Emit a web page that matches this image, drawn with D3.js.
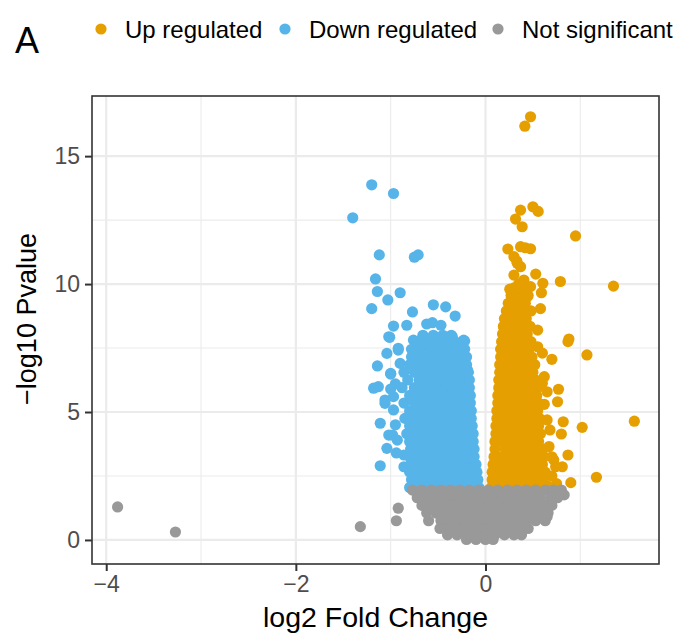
<!DOCTYPE html>
<html><head><meta charset="utf-8">
<script src="https://cdn.jsdelivr.net/npm/d3@7/dist/d3.min.js"></script>
<style>body{margin:0;background:#fff}svg{display:block;font-family:"Liberation Sans",Arial,Helvetica,sans-serif}</style>
</head><body><div id="chart"></div>
<script>
const seriesNames = ["Up regulated","Down regulated","Not significant"];
const seriesColors = ["#E69F00","#56B4E9","#999999"];
const xTicks = [-4,-2,0];
const yTicks = [0,5,10,15];
const xMinor = [-3,-1,1];
const yMinor = [2.5,7.5,12.5];

// Up regulated (log2FC, -log10 p)
const upPoints = [
[0.475,16.54],[0.415,16.17],[0.37,12.89],[0.50,13.02],[0.556,12.84],[0.317,12.54],[0.387,12.24],[0.95,11.88],
[0.236,11.37],[0.37,11.46],[0.475,11.38],[0.42,11.42],[0.30,11.07],[0.37,10.68],[0.33,10.9],[0.335,10.81],
[0.30,10.35],[0.53,10.39],[0.405,10.16],[0.79,10.10],[1.35,9.92],[0.256,9.80],[0.605,10.03],[0.59,9.66],
[0.475,9.9],[0.44,9.5],[0.40,10.1],[0.35,10.0],[0.3,9.25],[0.58,9.04],[0.23,8.72],[0.19,8.33],
[0.87,7.75],[0.88,7.85],[1.07,7.23],[0.70,7.06],[0.62,6.38],[0.77,5.89],[0.65,5.79],[0.76,5.40],
[0.82,4.62],[1.02,4.40],[1.57,4.64],[0.80,4.14],[0.87,3.32],[0.81,2.86],[1.17,2.45],[0.90,2.24],
[0.72,3.13],[0.67,3.65],[0.65,4.69],[0.55,7.55],[0.44,7.81],[0.42,8.47],[0.37,8.53],[0.70,3.25],
[0.74,2.86],[0.6,6.12],[0.55,8.2],[0.6,7.3],[0.62,5.3],[0.68,4.3],[0.7,2.5],[0.75,2.2],[0.66,2.1],
[0.06,2.05],[0.16,2.05],[0.26,2.05],[0.36,2.05],[0.46,2.05],[0.56,2.05],[0.64,2.05],
[0.07,2.35],[0.11,2.35],[0.21,2.35],[0.31,2.35],[0.41,2.35],[0.51,2.35],[0.61,2.35],
[0.07,2.65],[0.16,2.65],[0.26,2.65],[0.36,2.65],[0.46,2.65],[0.56,2.65],[0.63,2.65],
[0.08,2.95],[0.11,2.95],[0.21,2.95],[0.31,2.95],[0.41,2.95],[0.51,2.95],[0.6,2.95],
[0.09,3.25],[0.16,3.25],[0.26,3.25],[0.36,3.25],[0.46,3.25],[0.56,3.25],[0.62,3.25],
[0.1,3.55],[0.21,3.55],[0.31,3.55],[0.41,3.55],[0.51,3.55],[0.6,3.55],
[0.1,3.85],[0.16,3.85],[0.26,3.85],[0.36,3.85],[0.46,3.85],[0.56,3.85],
[0.11,4.15],[0.21,4.15],[0.31,4.15],[0.41,4.15],[0.51,4.15],[0.58,4.15],
[0.11,4.45],[0.16,4.45],[0.26,4.45],[0.36,4.45],[0.46,4.45],[0.56,4.45],
[0.12,4.75],[0.21,4.75],[0.31,4.75],[0.41,4.75],[0.51,4.75],[0.57,4.75],
[0.12,5.05],[0.18,5.05],[0.26,5.05],[0.36,5.05],[0.46,5.05],[0.55,5.05],
[0.13,5.35],[0.21,5.35],[0.31,5.35],[0.41,5.35],[0.51,5.35],[0.56,5.35],
[0.13,5.65],[0.2,5.65],[0.26,5.65],[0.36,5.65],[0.46,5.65],[0.54,5.65],
[0.14,5.95],[0.21,5.95],[0.31,5.95],[0.41,5.95],[0.5,5.95],[0.55,5.95],
[0.14,6.25],[0.2,6.25],[0.26,6.25],[0.36,6.25],[0.46,6.25],[0.53,6.25],
[0.15,6.55],[0.21,6.55],[0.31,6.55],[0.41,6.55],[0.5,6.55],
[0.15,6.85],[0.2,6.85],[0.26,6.85],[0.36,6.85],[0.46,6.85],[0.52,6.85],
[0.16,7.15],[0.21,7.15],[0.31,7.15],[0.41,7.15],[0.49,7.15],
[0.16,7.45],[0.21,7.45],[0.26,7.45],[0.36,7.45],[0.46,7.45],
[0.17,7.75],[0.22,7.75],[0.31,7.75],[0.41,7.75],[0.48,7.75],
[0.18,8.05],[0.26,8.05],[0.36,8.05],[0.44,8.05],
[0.19,8.35],[0.27,8.35],[0.31,8.35],[0.41,8.35],[0.47,8.35],
[0.2,8.65],[0.26,8.65],[0.36,8.65],[0.43,8.65],
[0.22,8.95],[0.31,8.95],[0.4,8.95],[0.48,8.95],
[0.24,9.25],[0.33,9.25],[0.42,9.25],
[0.27,9.55],[0.37,9.55],[0.45,9.55],
[0.3,9.85],[0.4,9.85]
];

// Down regulated
const downPoints = [
[-1.20,13.88],[-0.97,13.54],[-1.40,12.59],[-1.12,11.14],[-0.71,11.14],[-0.75,11.05],[-1.16,10.20],[-1.14,9.71],
[-1.03,9.38],[-0.90,9.66],[-1.20,9.04],[-0.77,8.91],[-0.55,9.19],[-0.42,9.11],[-0.32,8.75],[-0.97,8.36],
[-0.83,8.39],[-0.62,8.44],[-0.56,8.49],[-0.47,8.39],[-1.02,7.94],[-0.35,7.94],[-0.23,7.81],[-1.01,7.92],
[-1.04,7.29],[-0.92,7.49],[-1.14,6.80],[-1.00,6.51],[-1.18,5.93],[-1.13,5.99],[-1.06,5.34],[-1.11,4.56],
[-1.02,4.10],[-1.04,3.58],[-1.11,2.90],[-0.86,3.32],[-0.86,2.86],[-0.76,7.81],[-0.37,7.94],[-0.22,7.77],
[-0.21,7.16],[-0.19,6.64],[-1.0,6.48],[-1.06,5.47],[-0.98,4.1],[-0.97,5.08],[-0.92,7.42],[-0.95,6.1],
[-0.97,5.6],[-0.95,4.5],[-0.93,3.9],[-0.9,6.9],[-1.0,5.9],[-0.94,3.4],
[-0.8,2.05],[-0.7,2.05],[-0.6,2.05],[-0.5,2.05],[-0.4,2.05],[-0.3,2.05],[-0.2,2.05],[-0.12,2.05],[-0.07,2.05],
[-0.78,2.35],[-0.75,2.35],[-0.65,2.35],[-0.55,2.35],[-0.45,2.35],[-0.35,2.35],[-0.25,2.35],[-0.15,2.35],[-0.08,2.35],
[-0.8,2.65],[-0.7,2.65],[-0.6,2.65],[-0.5,2.65],[-0.4,2.65],[-0.3,2.65],[-0.2,2.65],[-0.12,2.65],[-0.09,2.65],
[-0.79,2.95],[-0.75,2.95],[-0.65,2.95],[-0.55,2.95],[-0.45,2.95],[-0.35,2.95],[-0.25,2.95],[-0.15,2.95],[-0.1,2.95],
[-0.8,3.25],[-0.7,3.25],[-0.6,3.25],[-0.5,3.25],[-0.4,3.25],[-0.3,3.25],[-0.2,3.25],[-0.12,3.25],
[-0.79,3.55],[-0.75,3.55],[-0.65,3.55],[-0.55,3.55],[-0.45,3.55],[-0.35,3.55],[-0.25,3.55],[-0.15,3.55],[-0.12,3.55],
[-0.8,3.85],[-0.7,3.85],[-0.6,3.85],[-0.5,3.85],[-0.4,3.85],[-0.3,3.85],[-0.2,3.85],[-0.13,3.85],
[-0.83,4.15],[-0.75,4.15],[-0.65,4.15],[-0.55,4.15],[-0.45,4.15],[-0.35,4.15],[-0.25,4.15],[-0.15,4.15],[-0.13,4.15],
[-0.8,4.45],[-0.7,4.45],[-0.6,4.45],[-0.5,4.45],[-0.4,4.45],[-0.3,4.45],[-0.2,4.45],[-0.14,4.45],
[-0.85,4.75],[-0.75,4.75],[-0.65,4.75],[-0.55,4.75],[-0.45,4.75],[-0.35,4.75],[-0.25,4.75],[-0.15,4.75],
[-0.8,5.05],[-0.7,5.05],[-0.6,5.05],[-0.5,5.05],[-0.4,5.05],[-0.3,5.05],[-0.2,5.05],[-0.15,5.05],
[-0.86,5.35],[-0.75,5.35],[-0.65,5.35],[-0.55,5.35],[-0.45,5.35],[-0.35,5.35],[-0.25,5.35],[-0.16,5.35],
[-0.8,5.65],[-0.7,5.65],[-0.6,5.65],[-0.5,5.65],[-0.4,5.65],[-0.3,5.65],[-0.2,5.65],[-0.16,5.65],
[-0.88,5.95],[-0.75,5.95],[-0.65,5.95],[-0.55,5.95],[-0.45,5.95],[-0.35,5.95],[-0.25,5.95],[-0.17,5.95],
[-0.82,6.25],[-0.7,6.25],[-0.6,6.25],[-0.5,6.25],[-0.4,6.25],[-0.3,6.25],[-0.2,6.25],[-0.17,6.25],
[-0.86,6.55],[-0.75,6.55],[-0.65,6.55],[-0.55,6.55],[-0.45,6.55],[-0.35,6.55],[-0.25,6.55],[-0.18,6.55],
[-0.8,6.85],[-0.7,6.85],[-0.6,6.85],[-0.5,6.85],[-0.4,6.85],[-0.3,6.85],[-0.2,6.85],
[-0.78,7.15],[-0.75,7.15],[-0.65,7.15],[-0.55,7.15],[-0.45,7.15],[-0.35,7.15],[-0.25,7.15],[-0.2,7.15],
[-0.78,7.45],[-0.68,7.45],[-0.58,7.45],[-0.48,7.45],[-0.38,7.45],[-0.28,7.45],[-0.22,7.45],
[-0.72,7.75],[-0.62,7.75],[-0.52,7.75],[-0.42,7.75],[-0.32,7.75],[-0.24,7.75],
[-0.66,8.0],[-0.55,8.0],[-0.45,8.0],[-0.36,8.0]
];

// Not significant
const nsPoints = [
[-3.88,1.29],[-3.27,0.31],[-1.32,0.52],[-0.92,1.24],[-0.94,0.75],
[0.757,1.89],[0.83,1.76],[0.69,1.56],[0.65,0.91],
[-0.77,1.95],[-0.67,1.95],[-0.57,1.95],[-0.47,1.95],[-0.37,1.95],[-0.27,1.95],[-0.17,1.95],[-0.07,1.95],[0.03,1.95],[0.13,1.95],[0.23,1.95],[0.33,1.95],[0.43,1.95],[0.53,1.95],[0.63,1.95],[0.72,1.95],[0.8,1.95],
[-0.72,1.65],[-0.62,1.65],[-0.52,1.65],[-0.42,1.65],[-0.32,1.65],[-0.22,1.65],[-0.12,1.65],[-0.02,1.65],[0.08,1.65],[0.18,1.65],[0.28,1.65],[0.38,1.65],[0.48,1.65],[0.58,1.65],[0.69,1.65],[0.76,1.65],
[-0.67,1.35],[-0.57,1.35],[-0.47,1.35],[-0.37,1.35],[-0.27,1.35],[-0.17,1.35],[-0.07,1.35],[0.03,1.35],[0.13,1.35],[0.23,1.35],[0.33,1.35],[0.43,1.35],[0.53,1.35],[0.63,1.35],[0.7,1.35],
[-0.62,1.05],[-0.52,1.05],[-0.42,1.05],[-0.32,1.05],[-0.22,1.05],[-0.12,1.05],[-0.02,1.05],[0.08,1.05],[0.18,1.05],[0.28,1.05],[0.38,1.05],[0.48,1.05],[0.58,1.05],[0.66,1.05],
[-0.6,0.75],[-0.47,0.75],[-0.37,0.75],[-0.27,0.75],[-0.17,0.75],[-0.07,0.75],[0.03,0.75],[0.13,0.75],[0.23,0.75],[0.33,0.75],[0.43,0.75],[0.53,0.75],[0.63,0.75],
[-0.48,0.45],[-0.42,0.45],[-0.32,0.45],[-0.22,0.45],[-0.12,0.45],[-0.02,0.45],[0.08,0.45],[0.18,0.45],[0.28,0.45],[0.38,0.45],[0.45,0.45],
[-0.4,0.2],[-0.3,0.2],[-0.2,0.2],[-0.1,0.2],[0.0,0.2],[0.1,0.2],[0.2,0.2],[0.3,0.2],[0.38,0.2],
[-0.2,0.02],[-0.1,0.02],[0.0,0.02],[0.08,0.02]
];

const W = 679, H = 638;
const P = {left: 92, right: 659, top: 96, bottom: 564};
const svg = d3.select("#chart").append("svg").attr("width", W).attr("height", H);

const x = d3.scaleLinear().domain([-4.15, 1.83]).range([P.left, P.right]);
const y = d3.scaleLinear().domain([-0.94, 17.35]).range([P.bottom, P.top]);

// grid
const grid = svg.append("g");
grid.selectAll(".xm").data(xMinor).enter().append("line")
  .attr("x1", d => x(d)).attr("x2", d => x(d)).attr("y1", P.top).attr("y2", P.bottom)
  .attr("stroke", "#ebebeb").attr("stroke-width", 1.1);
grid.selectAll(".ym").data(yMinor).enter().append("line")
  .attr("y1", d => y(d)).attr("y2", d => y(d)).attr("x1", P.left).attr("x2", P.right)
  .attr("stroke", "#ebebeb").attr("stroke-width", 1.1);
grid.selectAll(".xM").data(xTicks).enter().append("line")
  .attr("x1", d => x(d)).attr("x2", d => x(d)).attr("y1", P.top).attr("y2", P.bottom)
  .attr("stroke", "#ebebeb").attr("stroke-width", 2.2);
grid.selectAll(".yM").data(yTicks).enter().append("line")
  .attr("y1", d => y(d)).attr("y2", d => y(d)).attr("x1", P.left).attr("x2", P.right)
  .attr("stroke", "#ebebeb").attr("stroke-width", 2.2);

// points
const R = 5.6;
const layers = [downPoints, upPoints, nsPoints];
const layerColor = [seriesColors[1], seriesColors[0], seriesColors[2]];
layers.forEach((pts, i) => {
  svg.append("g").selectAll("circle").data(pts).enter().append("circle")
    .attr("cx", d => x(d[0])).attr("cy", d => y(d[1])).attr("r", R)
    .attr("fill", layerColor[i]);
});

// panel border
svg.append("rect").attr("x", P.left).attr("y", P.top)
  .attr("width", P.right - P.left).attr("height", P.bottom - P.top)
  .attr("fill", "none").attr("stroke", "#333333").attr("stroke-width", 1.6);

// axes
const fmt = d => d < 0 ? "\u2212" + Math.abs(d) : String(d);
const xAxis = svg.append("g").attr("transform", `translate(0,${P.bottom})`)
  .call(d3.axisBottom(x).tickValues(xTicks).tickSize(7).tickPadding(5).tickFormat(fmt));
const yAxis = svg.append("g").attr("transform", `translate(${P.left},0)`)
  .call(d3.axisLeft(y).tickValues(yTicks).tickSize(7).tickPadding(5).tickFormat(fmt));
[xAxis, yAxis].forEach(a => {
  a.select(".domain").remove();
  a.selectAll(".tick line").attr("stroke", "#333333").attr("stroke-width", 2);
  a.selectAll(".tick text").attr("fill", "#4d4d4d").attr("font-size", 23)
    .attr("font-family", '"Liberation Sans", Arial, sans-serif');
});

// axis titles
svg.append("text").attr("x", (P.left + P.right) / 2).attr("y", 627)
  .attr("text-anchor", "middle").attr("font-size", 28.5).attr("fill", "#000")
  .text("log2 Fold Change");
svg.append("text").attr("transform", "translate(36,319) rotate(-90)")
  .attr("text-anchor", "middle").attr("font-size", 27).attr("fill", "#000")
  .text("\u2212log10 Pvalue");

// tag
svg.append("text").attr("x", 15).attr("y", 53).attr("font-size", 36).attr("fill", "#000").text("A");

// legend
const legX = [101, 285, 498];
const lg = svg.append("g");
seriesNames.forEach((n, i) => {
  lg.append("circle").attr("cx", legX[i]).attr("cy", 29).attr("r", R).attr("fill", seriesColors[i]);
  lg.append("text").attr("x", legX[i] + 24).attr("y", 37.5).attr("font-size", 24).attr("fill", "#000").text(n);
});
</script>
</body></html>
